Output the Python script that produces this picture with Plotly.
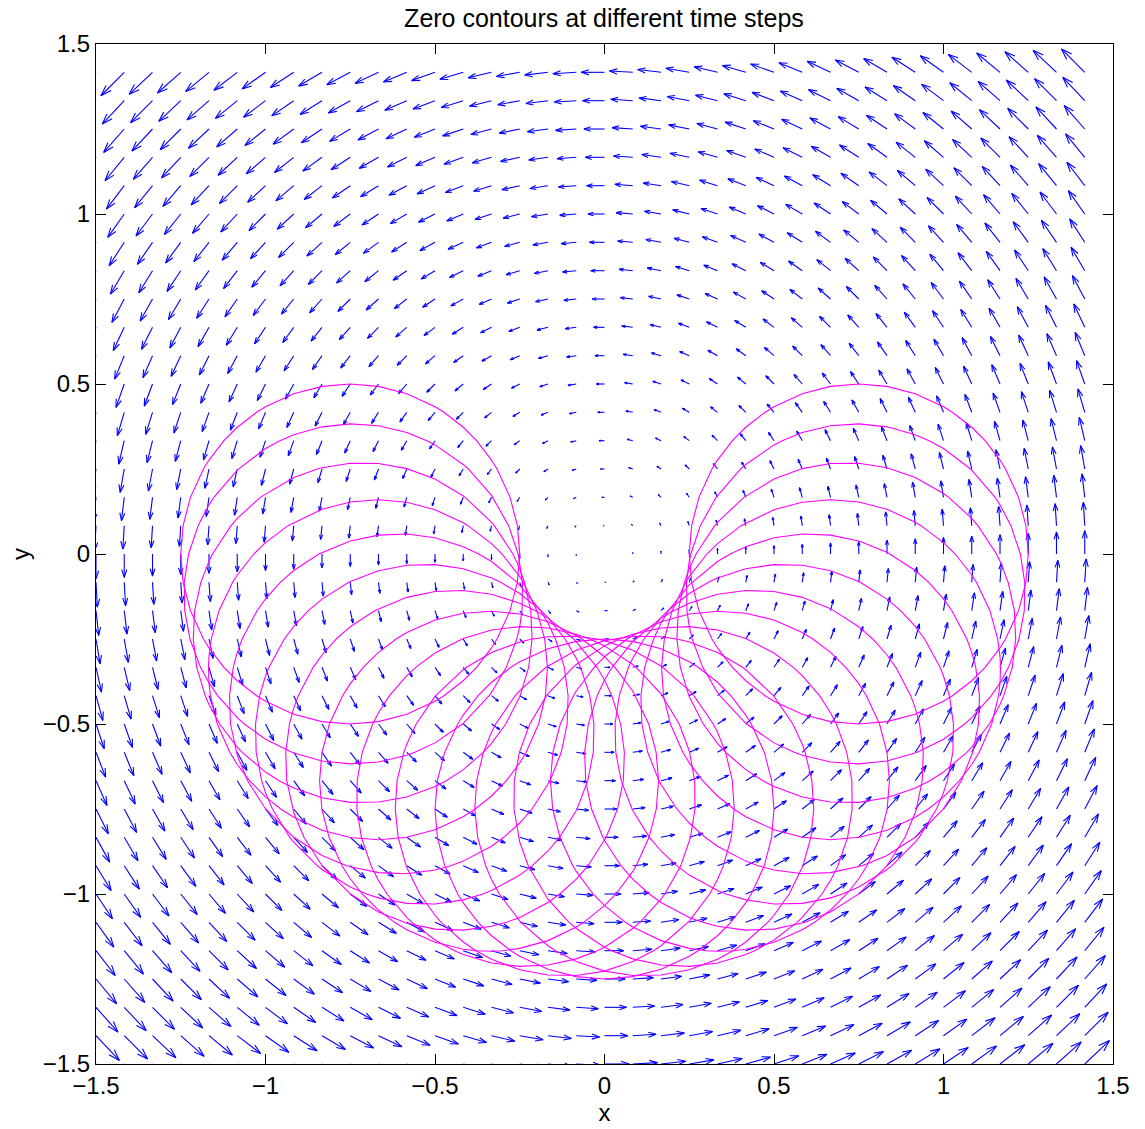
import math
import plotly.graph_objects as go

# ---------------- data ----------------
# grid on which the velocity field is sampled (and the level set is contoured)
grid_vals = [-1.5, -1.4167, -1.3333, -1.25, -1.1667, -1.0833, -1.0, -0.9167,
             -0.8333, -0.75, -0.6667, -0.5833, -0.5, -0.4167, -0.3333, -0.25,
             -0.1667, -0.0833, 0.0, 0.0833, 0.1667, 0.25, 0.3333, 0.4167, 0.5,
             0.5833, 0.6667, 0.75, 0.8333, 0.9167, 1.0, 1.0833, 1.1667, 1.25,
             1.3333, 1.4167]
# rigid rotation about the origin: u = -omega*y, v = omega*x
omega = 1.0
# zero contours: circles of radius r_circle whose centres sit on a ring of
# radius r_orbit at these polar angles (degrees), one per time step
center_angles_deg = [180, 189, 198, 207, 216, 225, 234, 243, 252, 261, 270,
                     279, 288, 297, 306, 315, 324, 333, 342, 351, 360]
r_circle = 0.5
r_orbit = 0.75

x_ticks = [-1.5, -1.0, -0.5, 0.0, 0.5, 1.0, 1.5]
x_tick_text = ["\u22121.5", "\u22121", "\u22120.5", "0", "0.5", "1", "1.5"]
y_ticks = [-1.5, -1.0, -0.5, 0.0, 0.5, 1.0, 1.5]
y_tick_text = ["\u22121.5", "\u22121", "\u22120.5", "0", "0.5", "1", "1.5"]

# ---------------- quiver (MATLAB-style autoscale + arrowheads) -------------
n = len(grid_vals)
delx = (max(grid_vals) - min(grid_vals)) / n
del_len = math.sqrt(2 * delx * delx)
U, V, XP, YP = [], [], [], []
for yv in grid_vals:
    for xv in grid_vals:
        XP.append(xv)
        YP.append(yv)
        U.append(-omega * yv)
        V.append(omega * xv)
maxmag = max(math.hypot(u, v) for u, v in zip(U, V))
scale = 0.9 * del_len / maxmag
alpha, beta = 0.33, 0.33

qx, qy = [], []
for x0, y0, u, v in zip(XP, YP, U, V):
    u *= scale
    v *= scale
    tx, ty = x0 + u, y0 + v
    qx += [x0, tx, None]
    qy += [y0, ty, None]
    qx += [tx - alpha * (u + beta * v), tx, tx - alpha * (u - beta * v), None]
    qy += [ty - alpha * (v - beta * u), ty, ty - alpha * (v + beta * u), None]

fig = go.Figure()
fig.add_trace(go.Scatter(x=qx, y=qy, mode="lines",
                         line=dict(color="#0000FF", width=1.1),
                         hoverinfo="skip", showlegend=False))

# ---------------- zero contours (polygons through grid-line crossings) ------
for ang in center_angles_deg:
    th = math.radians(ang)
    cx, cy = r_orbit * math.cos(th), r_orbit * math.sin(th)
    pts = []
    for g in grid_vals:
        d = g - cx
        if abs(d) < r_circle:
            h = math.sqrt(r_circle ** 2 - d * d)
            pts.append((g, cy + h))
            pts.append((g, cy - h))
        d = g - cy
        if abs(d) < r_circle:
            h = math.sqrt(r_circle ** 2 - d * d)
            pts.append((cx + h, g))
            pts.append((cx - h, g))
    pts.sort(key=lambda p: math.atan2(p[1] - cy, p[0] - cx))
    pts.append(pts[0])
    fig.add_trace(go.Scatter(x=[p[0] for p in pts], y=[p[1] for p in pts],
                             mode="lines",
                             line=dict(color="#FF00FF", width=1.1),
                             hoverinfo="skip", showlegend=False))

font_family = "Liberation Sans, Arial, Helvetica, sans-serif"
axis_common = dict(range=[-1.5, 1.5], showgrid=False, zeroline=False,
                   showline=True, linecolor="black", linewidth=1.2,
                   mirror="ticks", ticks="inside", ticklen=10,
                   tickcolor="black", tickwidth=1, automargin=False,
                   tickfont=dict(family=font_family, size=24, color="black"))

fig.update_layout(
    width=1145, height=1129,
    margin=dict(l=96, r=32, t=44, b=65),
    paper_bgcolor="white", plot_bgcolor="white",
    title=dict(text="Zero contours at different time steps",
               x=0.5275, xanchor="center", y=1 - 18 / 1129, yanchor="middle",
               yref="container",
               font=dict(family=font_family, size=25, color="black")),
    xaxis=dict(axis_common, tickvals=x_ticks, ticktext=x_tick_text,
               title=dict(text="x", standoff=6,
                          font=dict(family=font_family, size=24, color="black"))),
    yaxis=dict(axis_common, tickvals=y_ticks, ticktext=y_tick_text,
               title=dict(text="y", standoff=6,
                          font=dict(family=font_family, size=24, color="black"))),
)

fig.write_html("out.html")
